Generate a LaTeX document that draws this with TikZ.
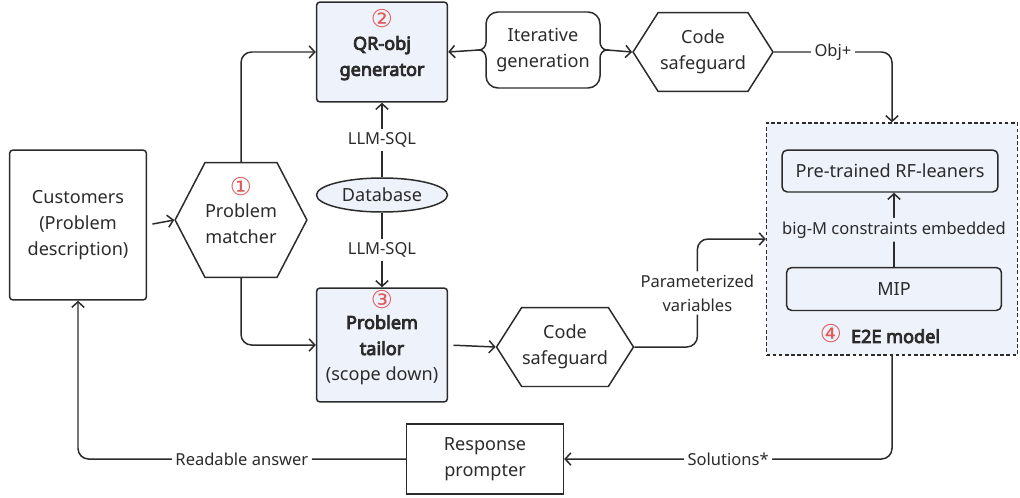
\documentclass[tikz,border=0pt]{standalone}
\usepackage{fontspec}
\setmainfont{Noto Sans}[AutoFakeBold=4.5]
\newfontfamily\numfont{DejaVu Sans}
\usetikzlibrary{positioning,shapes.geometric,shapes.symbols,arrows.meta}
\definecolor{boxfill}{HTML}{EEF2FB}
\definecolor{numred}{HTML}{E05A5A}
\definecolor{ink}{HTML}{2B2B2B}
\newcommand{\stagenum}[1]{{\numfont\fontsize{14}{14}\selectfont\color{numred}#1}}
\newcommand{\liftup}{\\[-4pt]\mbox{}}
\tikzset{
  every node/.style={text=ink,font=\fontsize{10.3}{14.8}\selectfont},
  flow/.style={draw=ink,line width=0.85pt,align=center,inner sep=0pt},
  stagebox/.style={flow,rectangle,rounded corners=2pt,fill=boxfill},
  plainbox/.style={flow,rectangle},
  guard/.style={flow,signal,signal to=west and east,signal pointer angle=115},
  link/.style={draw=ink,line width=0.85pt,->,rounded corners=6pt},
  tag/.style={fill=white,inner sep=2pt,font=\fontsize{9.4}{13.5}\selectfont}
}
\begin{document}
\begin{tikzpicture}[x=0.02cm,y=-0.02cm,>={Straight Barb[length=3.2pt,width=7pt]}]
\useasboundingbox (0,0) rectangle (1020,497);

\node[plainbox,rounded corners=2pt,minimum width=2.74cm,minimum height=3cm] (cust) at (78,225) {Customers\\(Problem\\description)};
\node[guard,signal pointer angle=125,minimum width=2.44cm,minimum height=2.3cm] (match) at (241,220) {\stagenum{①}\\[-2pt]Problem\\matcher\liftup};
\node[stagebox,minimum width=2.62cm,minimum height=2cm] (qr) at (382,52) {\stagenum{②}\\[-2pt]\textbf{QR-obj}\\\textbf{generator}\liftup};
\node[align=center,minimum width=2.3cm,minimum height=1.5cm] (iter) at (543,50) {Iterative\\generation};
\node[guard,minimum width=2.8cm,minimum height=1.58cm] (sg1) at (703,52) {Code\\safeguard};
\node[flow,ellipse,fill=boxfill,minimum width=2.62cm,minimum height=0.68cm] (db) at (382,195) {Database};
\node[stagebox,minimum width=2.62cm,minimum height=2.28cm] (tailor) at (382,345) {\stagenum{③}\\[-3pt]\textbf{Problem}\\\textbf{tailor}\\(scope down)\liftup};
\node[guard,minimum width=2.74cm,minimum height=1.58cm] (sg2) at (565,347) {Code\\safeguard};
\node[flow,fill=boxfill,dash pattern=on 2pt off 1.5pt,minimum width=5.02cm,minimum height=4.64cm] (e2e) at (892,239) {};
\node[stagebox,rounded corners=3pt,minimum width=4.32cm,minimum height=0.84cm] (rf) at (890,171) {Pre-trained RF-leaners};
\node[stagebox,rounded corners=3pt,minimum width=4.3cm,minimum height=0.86cm] (mip) at (894,289) {MIP};
\node (e2elbl) at (880,334) {\stagenum{④}\enspace\textbf{E2E model}};
\node[plainbox,minimum width=3.14cm,minimum height=1.4cm] (resp) at (485,459) {Response\\prompter};

% brace outline of the iteration node
\begin{scope}[shift={(iter.center)}]
\draw[draw=ink,line width=0.85pt] (-45,-38) to[out=180,in=90] (-57,-26) -- (-57,-8) to[out=270,in=0] (-64,0) to[out=0,in=90] (-57,8) -- (-57,26) to[out=270,in=180] (-45,38) -- (45,38) to[out=0,in=270] (57,26) -- (57,8) to[out=90,in=180] (64,0) to[out=180,in=270] (57,-8) -- (57,-26) to[out=90,in=0] (45,-38) -- cycle;
\coordinate (itL) at (-64,0);
\coordinate (itR) at (64,0);
\end{scope}

\draw[link,shorten <=3pt] (cust.east) -- (match.west);
\draw[link] (match.north) |- (qr.west);
\draw[link] (match.south) |- (tailor.west);
\draw[link] (itL) -- (qr.east);
\draw[link] (itR) -- (sg1.west);
\draw[link] (db.north) -- node[tag]{LLM-SQL} (qr.south);
\draw[link] (db.south) -- node[tag]{LLM-SQL} (tailor.north);
\draw[link,shorten <=3pt] (tailor.east) -- (sg2.west);
\draw[link] (sg1.east) -| node[tag,pos=.25]{Obj+} (e2e.north);
\draw[link] (sg2.east) -- ++(63,0) |- node[tag,pos=.25,align=center]{Parameterized\\variables} (e2e.west);
\draw[link] (mip.north) -- node[tag,fill=boxfill]{big-M constraints embedded} (mip.north |- rf.south);
\draw[link] (e2e.south) |- node[tag,pos=.75]{Solutions*} (resp.east);
\draw[link] (resp.west) -| node[tag,pos=.25]{Readable answer} (cust.south);
\end{tikzpicture}
\end{document}
